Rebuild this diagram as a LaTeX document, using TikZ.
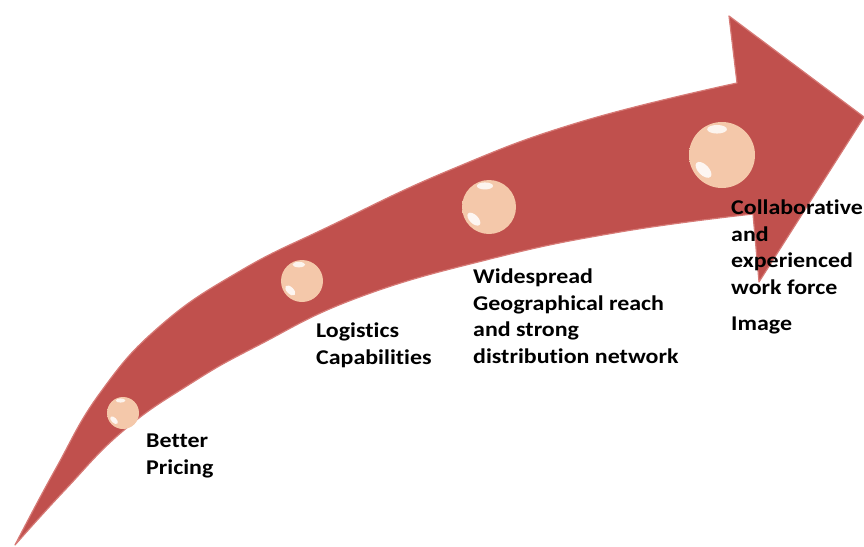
\documentclass[tikz,border=0pt]{standalone}
\usepackage{fontspec}
\setmainfont{Carlito}[FakeStretch=1.14, Ligatures=NoCommon]
\usepackage{tikz}

\definecolor{arrowred}{RGB}{192,80,77}
\definecolor{arrowrim}{RGB}{214,122,118}
\definecolor{peach}{RGB}{244,200,170}
\definecolor{peachrim}{RGB}{250,226,208}
\pgfdeclareradialshading{pearl}{\pgfpoint{0bp}{0bp}}{color(0bp)=(peach); color(38bp)=(peach); color(47bp)=(peachrim); color(50bp)=(white)}

\begin{document}
\begin{tikzpicture}[x=1pt, y=-1pt, line join = round, line cap = round,
    pearl/.style={circle, inner sep=0pt, shading=pearl},
    label text/.style={anchor=base west, align=left, inner sep=0pt, font=\fontsize{21}{26.5}\selectfont\bfseries}]
    \useasboundingbox (0,0) rectangle (864,546);
    \coordinate (tail) at (15,545);
    \coordinate (upper notch) at (737,83);
    \coordinate (top barb) at (729,16);
    \coordinate (tip) at (864,117);
    \coordinate (bottom barb) at (759,282);
    \coordinate (lower notch) at (753,214);

    \draw[draw=arrowrim, fill=arrowred, line width=1.2pt]
        plot[smooth, tension=0.75] coordinates {(tail) (55,470) (100,393) (160,326) (240,271) (330,226) (450,170)
            (580,122) (upper notch)}
        -- (top barb) -- (tip) -- (bottom barb)
        -- plot[smooth, tension=0.75] coordinates {(lower notch) (620,232) (490,259) (357,298) (257,346) (190,384)
            (123,431) (65,490) (tail)}
        -- cycle;

    \foreach \name/\x/\y/\r in {s1/123/413/16, s2/302/281/21, s3/489/207/27, s4/722/155/33}
    {
        \node[pearl, minimum size={2*\r*1pt}] (\name) at (\x,\y) {};
        \fill[white, opacity=.8] ([xshift=-0.15*\r pt, yshift=0.78*\r pt]\name.center) ellipse [x radius=0.3*\r, y radius=0.13*\r];
        \fill[white, opacity=.85] ([xshift=-0.56*\r pt, yshift=-0.45*\r pt]\name.center) ellipse [x radius=0.3*\r, y radius=0.16*\r, rotate=-45];
    }

    % base anchor sits on the last line
    \node[label text] (better) at (146,474) {Better\\Pricing};
    \node[label text] (logistics) at (316,364) {Logistics\\Capabilities};
    \node[label text] (reach) at (473,363) {Widespread\\Geographical reach\\and strong\\distribution network};
    \node[label text] (workforce) at (731,294) {Collaborative\\and\\experienced\\work force};
    \node[label text] (image) at (731,330) {Image};
\end{tikzpicture}
\end{document}
